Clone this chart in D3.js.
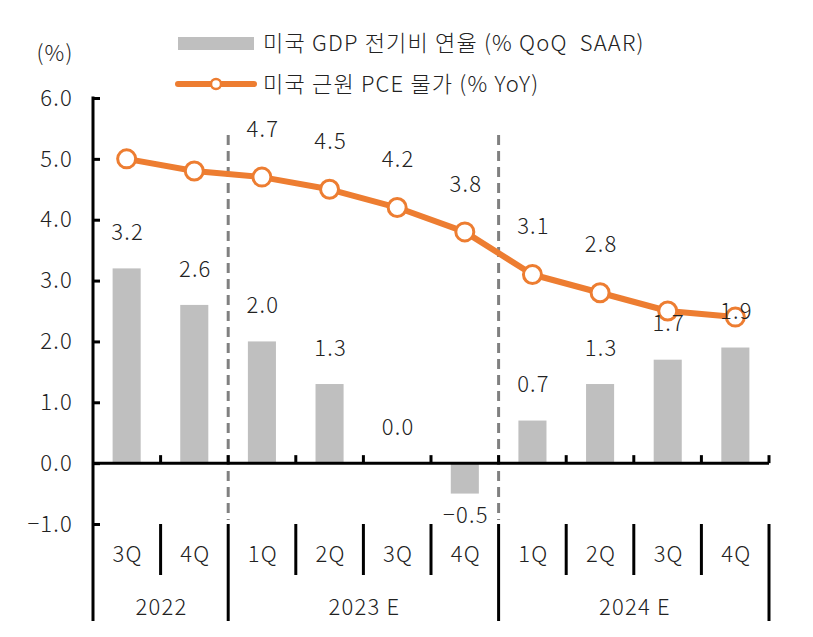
<!DOCTYPE html>
<html><head><meta charset="utf-8">
<script src="https://cdn.jsdelivr.net/npm/d3@7"></script>
<style>
body{margin:0;background:#fff;}
text{font-family:"Noto Sans CJK KR","Noto Sans",sans-serif;font-weight:300;fill:#222;letter-spacing:1.2px;}
</style></head><body>
<svg id="c" width="813" height="637"></svg>
<script>
const quarters = ["3Q","4Q","1Q","2Q","3Q","4Q","1Q","2Q","3Q","4Q"];
const years = ["2022","2022","2023 E","2023 E","2023 E","2023 E","2024 E","2024 E","2024 E","2024 E"];
const gdp = [3.2, 2.6, 2.0, 1.3, 0.0, -0.5, 0.7, 1.3, 1.7, 1.9];
const pce = [5.0, 4.8, 4.7, 4.5, 4.2, 3.8, 3.1, 2.8, 2.5, 2.4];
const pceLabels = [null, null, "4.7", "4.5", "4.2", "3.8", "3.1", "2.8", null, null];
const yTicks = [-1, 0, 1, 2, 3, 4, 5, 6];
const legendNames = ["미국 GDP 전기비 연율 (% QoQ  SAAR)", "미국 근원 PCE 물가 (% YoY)"];

const FS = 22;
const svg = d3.select("#c");
const keys = quarters.map((q,i)=>years[i]+"-"+q);
const x = d3.scaleBand().domain(keys).range([93, 769]).paddingInner(0.585).paddingOuter(0.29);
const cx = i => x(keys[i]) + x.bandwidth()/2;
const y = d3.scaleLinear().domain([-1, 6]).range([524, 98]);
const orange = "#ED7D31", grey = "#BFBFBF";
const fmt = d => (d<0?"\u2212":"")+Math.abs(d).toFixed(1);

// bars
svg.selectAll("rect.bar").data(gdp).enter().append("rect")
  .attr("x",(d,i)=>x(keys[i])).attr("width",x.bandwidth())
  .attr("y",d=>y(Math.max(0,d))).attr("height",d=>Math.abs(y(d)-y(0)))
  .attr("fill",grey);

// dashed year separators
const bounds = [];
years.forEach((yr,i)=>{ if(i>0 && yr!==years[i-1]) bounds.push(i); });
const boundX = i => 93 + (769-93)*i/keys.length;
svg.selectAll("line.dash").data(bounds).enter().append("line")
  .attr("x1",boundX).attr("x2",boundX).attr("y1",135).attr("y2",520)
  .attr("stroke","#808080").attr("stroke-width",3).attr("stroke-dasharray","10,6");

// y axis
const yAxis = d3.axisRight(y).tickValues(yTicks).tickSize(7).tickFormat("");
const ya = svg.append("g").attr("transform","translate(93,0)").call(yAxis);
ya.select(".domain").remove();
ya.selectAll("line").attr("stroke","#000").attr("stroke-width",3);
svg.append("line").attr("x1",93).attr("x2",93).attr("y1",y(6)-1.5).attr("y2",621).attr("stroke","#000").attr("stroke-width",3);
svg.selectAll("text.yt").data(yTicks).enter().append("text")
  .attr("x",73).attr("y",d=>y(d)).attr("dy","0.35em").attr("text-anchor","end")
  .attr("font-size",FS).text(fmt);
svg.append("text").attr("x",55).attr("y",53).attr("dy","0.35em").attr("text-anchor","middle").attr("font-size",FS).text("(%)");

// x axis at zero
svg.append("line").attr("x1",93).attr("x2",769).attr("y1",y(0)).attr("y2",y(0)).attr("stroke","#000").attr("stroke-width",3);
d3.range(1, keys.length+1).forEach(i=>{
  svg.append("line").attr("x1",boundX(i)).attr("x2",boundX(i)).attr("y1",y(0)).attr("y2",y(0)-8).attr("stroke","#000").attr("stroke-width",3);
});
// category separators below
d3.range(1, keys.length+1).forEach(i=>{
  const isYear = i===keys.length || bounds.includes(i);
  svg.append("line").attr("x1",boundX(i)).attr("x2",boundX(i)).attr("y1",524).attr("y2",isYear?621:575).attr("stroke","#000").attr("stroke-width",3);
});
svg.selectAll("text.q").data(quarters).enter().append("text")
  .attr("x",(d,i)=>cx(i)+1).attr("y",554).attr("dy","0.35em").attr("text-anchor","middle").attr("font-size",FS).text(d=>d);
const yearGroups = d3.groups(years.map((yr,i)=>({yr,i})), d=>d.yr);
yearGroups.forEach(([yr,arr])=>{
  const mid = (cx(arr[0].i)+cx(arr[arr.length-1].i))/2;
  svg.append("text").attr("x",mid+1).attr("y",607).attr("dy","0.35em").attr("text-anchor","middle").attr("font-size",FS).text(yr);
});

// line
const line = d3.line().x((d,i)=>cx(i)).y(d=>y(d));
svg.append("path").datum(pce).attr("d",line).attr("fill","none").attr("stroke",orange).attr("stroke-width",6).attr("stroke-linejoin","round");
svg.selectAll("circle.pt").data(pce).enter().append("circle")
  .attr("cx",(d,i)=>cx(i)).attr("cy",d=>y(d)).attr("r",9).attr("fill","#fff").attr("stroke",orange).attr("stroke-width",3);
pce.forEach((d,i)=>{
  if(pceLabels[i]===null) return;
  svg.append("text").attr("x",cx(i)+1).attr("y",y(d)-48).attr("dy","0.35em").attr("text-anchor","middle").attr("font-size",FS).text(pceLabels[i]);
});

// bar labels (drawn over the line)
svg.selectAll("text.bl").data(gdp).enter().append("text")
  .attr("x",(d,i)=>cx(i)+1).attr("y",d=>d<0?y(d)+22:y(d)-36).attr("dy","0.35em").attr("text-anchor","middle").attr("font-size",FS)
  .text(fmt);

// legend
svg.append("rect").attr("x",178).attr("y",37).attr("width",76).attr("height",13).attr("fill",grey);
svg.append("line").attr("x1",178).attr("x2",254).attr("y1",84).attr("y2",84).attr("stroke",orange).attr("stroke-width",6).attr("stroke-linecap","round");
svg.append("circle").attr("cx",216).attr("cy",84).attr("r",5).attr("fill","#fff").attr("stroke",orange).attr("stroke-width",2.5);
svg.append("text").attr("x",263).attr("y",43).attr("dy","0.35em").attr("font-size",FS).style("white-space","pre").text(legendNames[0]);
svg.append("text").attr("x",263).attr("y",84).attr("dy","0.35em").attr("font-size",FS).text(legendNames[1]);
</script></body></html>
